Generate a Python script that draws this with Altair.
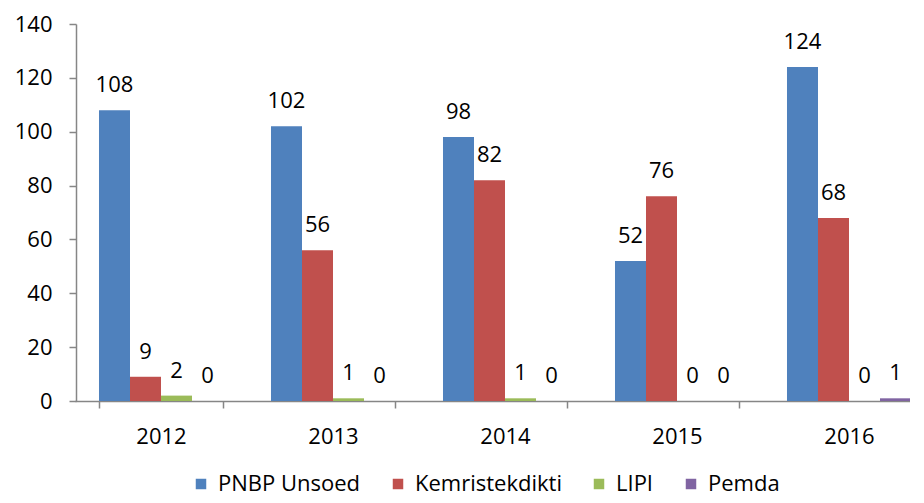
import altair as alt
import pandas as pd

years = ["2012", "2013", "2014", "2015", "2016"]
series = ["PNBP Unsoed", "Kemristekdikti", "LIPI", "Pemda"]
pnbp = [108, 102, 98, 52, 124]
kemr = [9, 56, 82, 76, 68]
lipi = [2, 1, 1, 0, 0]
pemda = [0, 0, 0, 0, 1]
colors = ["#4F81BD", "#C0504D", "#9BBB59", "#8064A2"]

rows = []
for i, y in enumerate(years):
    for s, vals in zip(series, [pnbp, kemr, lipi, pemda]):
        rows.append({"year": y, "series": s, "value": vals[i]})
df = pd.DataFrame(rows)

FONT = "Open Sans"
FS = 22

x = alt.X("year:N", sort=years, title=None,
          scale=alt.Scale(range=[-1, 859], paddingInner=0.279, paddingOuter=0.1395),
          axis=alt.Axis(labelAngle=0, labelFontSize=FS, labelFont=FONT, labelColor="#000",
                        domainColor="#868686", tickColor="#868686", tickSize=7,
                        tickBand="extent", labelPadding=18, domainWidth=1.5, tickWidth=1.5))
xo = alt.XOffset("series:N", sort=series, scale=alt.Scale(paddingInner=0, paddingOuter=0))
yenc = alt.Y("value:Q", title=None,
             scale=alt.Scale(domain=[0, 140]),
             axis=alt.Axis(values=list(range(0, 141, 20)), grid=False, labelFontSize=FS,
                           labelFont=FONT, labelColor="#000", domainColor="#868686",
                           tickColor="#868686", tickSize=7, labelPadding=17, domainWidth=1.5,
                           tickWidth=1.5))
color = alt.Color("series:N", sort=series, title=None,
                  scale=alt.Scale(domain=series, range=colors),
                  legend=alt.Legend(orient="none", legendX=114, legendY=449,
                                    direction="horizontal", symbolType="square",
                                    symbolSize=110, symbolStrokeWidth=0, labelFontSize=FS,
                                    labelFont=FONT, labelColor="#000", columnPadding=26,
                                    symbolOffset=0, labelOffset=6, padding=0))

base = alt.Chart(df).encode(x=x, xOffset=xo, y=yenc)
bars = base.mark_bar().encode(color=color)
text = base.mark_text(baseline="bottom", dy=-13, fontSize=FS, font=FONT, color="#000").encode(
    text="value:Q")

chart = (bars + text).properties(
    width=834, height=377,
    autosize=alt.AutoSizeParams(type="none"),
    padding={"left": 68, "top": 16, "right": 0, "bottom": 100},
).configure_view(stroke=None)

chart.save("out.html", embed_options={"renderer": "svg", "actions": False})
